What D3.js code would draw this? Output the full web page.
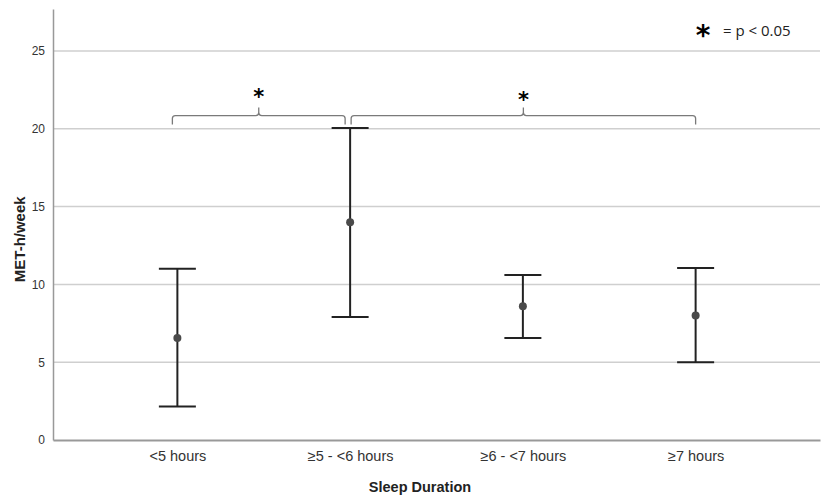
<!DOCTYPE html>
<html>
<head>
<meta charset="utf-8">
<script src="https://cdn.jsdelivr.net/npm/d3@7"></script>
<style>
  body { margin: 0; background: #fff; }
  svg { display: block; }
</style>
</head>
<body>
<svg width="829" height="499"></svg>
<script>
const categories = ["<5 hours", "≥5 - <6 hours", "≥6 - <7 hours", "≥7 hours"];
const means = [6.55, 14.0, 8.6, 8.0];
const lower = [2.15, 7.9, 6.55, 5.0];
const upper = [11.0, 20.05, 10.6, 11.05];
const yTicks = [0, 5, 10, 15, 20, 25];
// significance brackets: [from category, to category, bracket height]
const brackets = [
  { from: 0, to: 1, y: 20.85 },
  { from: 1, to: 3, y: 20.85 }
];

const svg = d3.select("svg");

const margin = { top: 9, right: 9, bottom: 59, left: 53 };
const width = 829 - margin.left - margin.right;
const height = 499 - margin.top - margin.bottom;

const g = svg.append("g")
  .attr("transform", `translate(${margin.left},${margin.top})`);

const x = d3.scalePoint().domain(categories).range([0, width]).padding(0.72);
const y = d3.scaleLinear().domain([0, 27.7]).range([height, 0]);

// gridlines
g.selectAll(".grid")
  .data(yTicks.filter(d => d > 0))
  .enter()
  .append("line")
  .attr("x1", 0)
  .attr("x2", width)
  .attr("y1", d => y(d))
  .attr("y2", d => y(d))
  .attr("stroke", "#cfcfcf")
  .attr("stroke-width", 1.5);

// y axis
const yAxis = g.append("g")
  .call(d3.axisLeft(y).tickValues(yTicks).tickSize(0).tickPadding(8));
yAxis.select(".domain").attr("stroke", "#999").attr("stroke-width", 1.5);
yAxis.selectAll("text")
  .attr("font-family", "Liberation Sans, Arial, sans-serif")
  .attr("font-size", "12px")
  .attr("fill", "#333");

// x axis
const xAxis = g.append("g")
  .attr("transform", `translate(0,${height})`)
  .call(d3.axisBottom(x).tickSize(0).tickPadding(11));
xAxis.select(".domain").attr("stroke", "#999").attr("stroke-width", 2);
xAxis.selectAll("text")
  .attr("font-family", "Liberation Sans, Arial, sans-serif")
  .attr("font-size", "14.5px")
  .attr("fill", "#333");

// axis titles
svg.append("text")
  .attr("transform", `translate(25,${margin.top + y(12.9)}) rotate(-90)`)
  .attr("text-anchor", "middle")
  .attr("font-family", "Liberation Sans, Arial, sans-serif")
  .attr("font-size", "15px")
  .attr("font-weight", "bold")
  .attr("fill", "#222")
  .text("MET-h/week");

svg.append("text")
  .attr("x", 420)
  .attr("y", 492)
  .attr("text-anchor", "middle")
  .attr("font-family", "Liberation Sans, Arial, sans-serif")
  .attr("font-size", "14.5px")
  .attr("font-weight", "bold")
  .attr("fill", "#222")
  .text("Sleep Duration");

// error bars
const capHalf = 18.5;
const bars = g.selectAll(".err")
  .data(categories)
  .enter()
  .append("g");

bars.append("line")
  .attr("x1", d => x(d))
  .attr("x2", d => x(d))
  .attr("y1", (d, i) => y(lower[i]))
  .attr("y2", (d, i) => y(upper[i]))
  .attr("stroke", "#222")
  .attr("stroke-width", 2);

bars.append("line")
  .attr("x1", d => x(d) - capHalf)
  .attr("x2", d => x(d) + capHalf)
  .attr("y1", (d, i) => y(upper[i]))
  .attr("y2", (d, i) => y(upper[i]))
  .attr("stroke", "#222")
  .attr("stroke-width", 2);

bars.append("line")
  .attr("x1", d => x(d) - capHalf)
  .attr("x2", d => x(d) + capHalf)
  .attr("y1", (d, i) => y(lower[i]))
  .attr("y2", (d, i) => y(lower[i]))
  .attr("stroke", "#222")
  .attr("stroke-width", 2);

bars.append("circle")
  .attr("cx", d => x(d))
  .attr("cy", (d, i) => y(means[i]))
  .attr("r", 4)
  .attr("fill", "#4a4a4a");

// significance brackets
brackets.forEach((b, i) => {
  const x0 = x(categories[b.from]) + (i === 0 ? -5 : 1);
  const x1 = x(categories[b.to]) + (i === 0 ? -5 : 0);
  const yb = y(b.y);
  const xm = (x0 + x1) / 2;
  const r = 3;
  const p = `M${x0},${yb + 9} L${x0},${yb + r} Q${x0},${yb} ${x0 + r},${yb}` +
    ` L${xm - r},${yb} Q${xm},${yb} ${xm},${yb - r} L${xm},${yb - 8}` +
    ` M${xm},${yb - r} Q${xm},${yb} ${xm + r},${yb}` +
    ` L${x1 - r},${yb} Q${x1},${yb} ${x1},${yb + r} L${x1},${yb + 9}`;
  g.append("path")
    .attr("d", p)
    .attr("fill", "none")
    .attr("stroke", "#7a7a7a")
    .attr("stroke-width", 1.3);
  g.append("text")
    .attr("x", xm)
    .attr("y", yb - 12 + (i === 0 ? 0 : 3))
    .attr("text-anchor", "middle")
    .attr("font-family", "DejaVu Sans, sans-serif")
    .attr("font-size", "21px")
    .attr("font-weight", "bold")
    .attr("fill", "#000")
    .text("*");
});

// legend
svg.append("text")
  .attr("x", 703)
  .attr("y", 45)
  .attr("text-anchor", "middle")
  .attr("font-family", "DejaVu Sans, sans-serif")
  .attr("font-size", "28px")
  .attr("font-weight", "bold")
  .attr("fill", "#000")
  .text("*");
svg.append("text")
  .attr("x", 723)
  .attr("y", 36)
  .attr("font-family", "Open Sans, sans-serif")
  .attr("font-size", "15px")
  .attr("fill", "#222")
  .text("= p < 0.05");
</script>
</body>
</html>
